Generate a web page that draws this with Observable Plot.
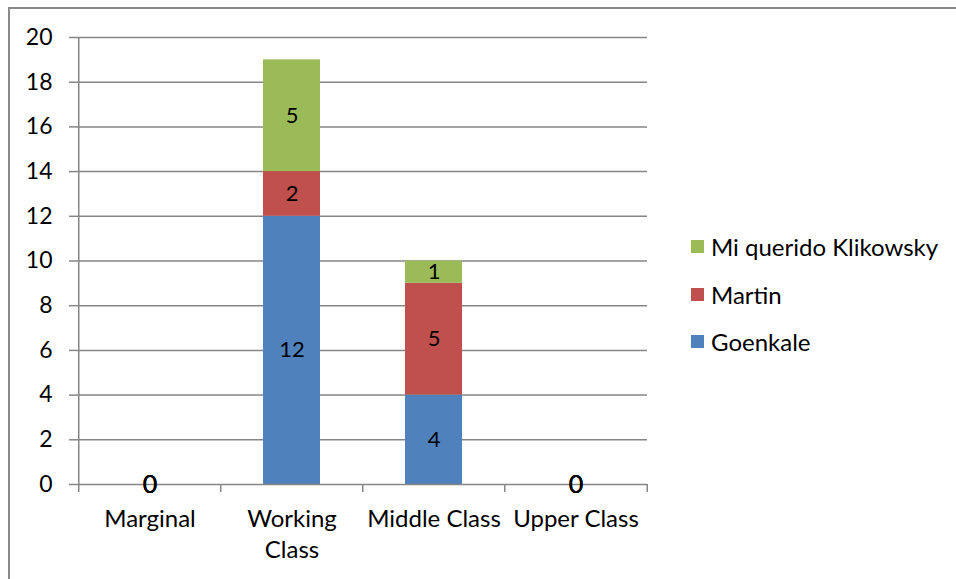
<!DOCTYPE html>
<html>
<head>
<meta charset="utf-8">
<script src="https://cdn.jsdelivr.net/npm/d3@7"></script>
<script src="https://cdn.jsdelivr.net/npm/@observablehq/plot@0.6"></script>
<style>
  html, body { margin: 0; padding: 0; background: #fff; }
  #wrap { position: relative; width: 956px; height: 579px; overflow: hidden; font-family: Lato, "Open Sans", sans-serif; }
  #frame { position: absolute; left: 8px; top: 7px; width: 1000px; height: 1000px; border-left: 2px solid #8a8a8a; border-top: 2px solid #8a8a8a; }
  #chart { position: absolute; left: 0; top: 0; }
  #legend { position: absolute; left: 691px; top: 223px; font-size: 24px; color: #000; }
  .item { display: flex; align-items: center; height: 47.5px; }
  .sw { width: 13px; height: 13px; margin-right: 7px; }
</style>
</head>
<body>
<div id="wrap">
  <div id="frame"></div>
  <div id="chart"></div>
  <div id="legend"></div>
</div>
<script>
const categories = ["Marginal", "Working Class", "Middle Class", "Upper Class"];
const seriesNames = ["Goenkale", "Martin", "Mi querido Klikowsky"];
const seriesColors = ["#4f81bd", "#c0504d", "#9bbb59"];
const goenkale = [0, 12, 4, 0];
const martin = [0, 2, 5, 0];
const klikowsky = [0, 5, 1, 0];
const yTicks = [0, 2, 4, 6, 8, 10, 12, 14, 16, 18, 20];
const xLabels = {"Marginal": "Marginal", "Working Class": "Working\nClass", "Middle Class": "Middle Class", "Upper Class": "Upper Class"};

const valuesBySeries = [goenkale, martin, klikowsky];
const data = [];
categories.forEach((c, i) => {
  seriesNames.forEach((s, j) => {
    data.push({category: c, series: s, value: valuesBySeries[j][i]});
  });
});

const gray = "#868686";
const step = 570 / 4;
const tickLen = 8 * 20 / 447;

const chart = Plot.plot({
  width: 956,
  height: 579,
  marginLeft: 77,
  marginRight: 309,
  marginTop: 37,
  marginBottom: 95,
  style: {fontFamily: "Lato, 'Open Sans', sans-serif", background: "transparent", overflow: "visible"},
  x: {domain: categories, paddingInner: 0.6, paddingOuter: 0.3, label: null},
  y: {domain: [0, 20], label: null},
  color: {domain: seriesNames, range: seriesColors},
  marks: [
    Plot.ruleY(yTicks.filter(d => d > 0), {stroke: gray, strokeWidth: 1.5, strokeOpacity: 1}),
    Plot.axisY({ticks: yTicks, tickSize: 8, tickPadding: 17, stroke: gray, strokeWidth: 1.5, strokeOpacity: 1, fontSize: 23, fill: "#000", label: null}),
    Plot.barY(data, {x: "category", y: "value", fill: "series"}),
    Plot.ruleX([0], {x: () => categories[0], y1: 0, y2: 20, dx: -step / 2, stroke: gray, strokeWidth: 1.5}),
    Plot.ruleY([0], {stroke: gray, strokeWidth: 1.5}),
    Plot.ruleX(categories, {x: d => d, y1: 0, y2: -tickLen, dx: -step / 2, stroke: gray, strokeWidth: 1.5}),
    Plot.ruleX([categories[categories.length - 1]], {x: d => d, y1: 0, y2: -tickLen, dx: step / 2, stroke: gray, strokeWidth: 1.5}),
    Plot.axisX({tickSize: 0, tickPadding: 20, fontSize: 24, fill: "#000", lineHeight: 1.3, tickFormat: d => xLabels[d], label: null}),
    Plot.text(data.filter(d => d.value > 0), Plot.stackY({x: "category", y: "value", z: "series", text: d => String(d.value), fontSize: 22, fill: "#000"})),
    Plot.text(data.filter(d => d.value === 0), {x: "category", y: "value", text: d => String(d.value), fontSize: 25, fill: "#000"})
  ]
});
document.getElementById("chart").appendChild(chart);

const legend = document.getElementById("legend");
seriesNames.slice().reverse().forEach(name => {
  const idx = seriesNames.indexOf(name);
  const item = document.createElement("div");
  item.className = "item";
  const sw = document.createElement("div");
  sw.className = "sw";
  sw.style.background = seriesColors[idx];
  const lab = document.createElement("span");
  lab.textContent = name;
  item.appendChild(sw);
  item.appendChild(lab);
  legend.appendChild(item);
});
</script>
</body>
</html>
